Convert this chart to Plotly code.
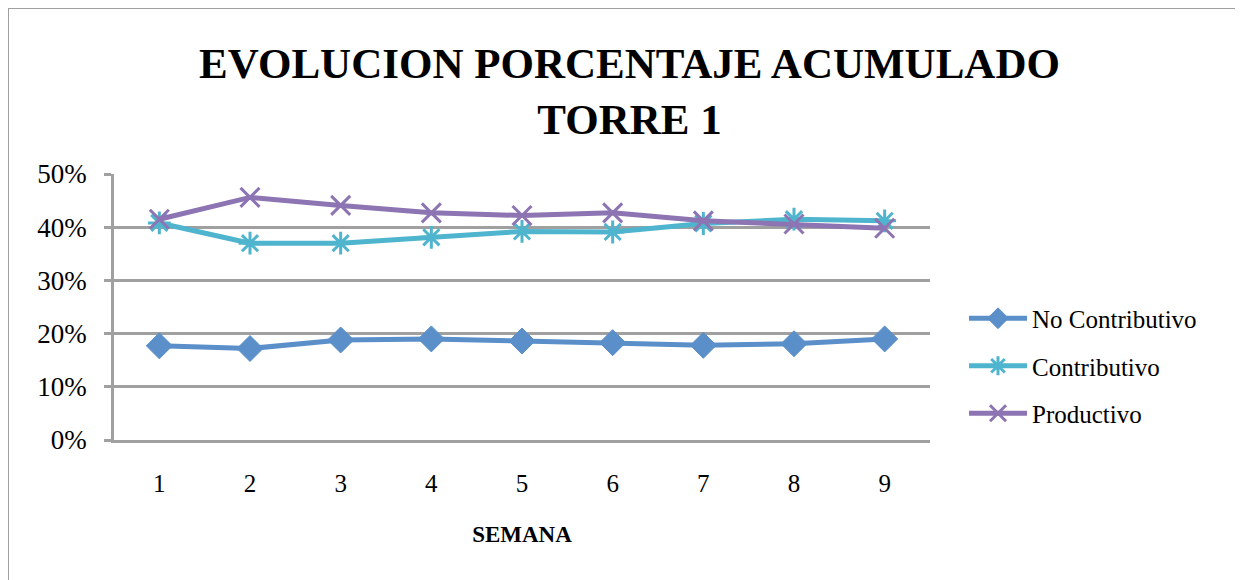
import plotly.graph_objects as go

# ______________ Data ______________
semanas = [1, 2, 3, 4, 5, 6, 7, 8, 9]
no_contributivo = [0.177, 0.172, 0.188, 0.190, 0.186, 0.183, 0.178, 0.181, 0.190]
contributivo = [0.408, 0.370, 0.370, 0.381, 0.392, 0.391, 0.407, 0.415, 0.412]
productivo = [0.415, 0.456, 0.441, 0.427, 0.422, 0.427, 0.412, 0.406, 0.398]
y_ticks = [0, 0.1, 0.2, 0.3, 0.4, 0.5]
y_labels = ["0%", "10%", "20%", "30%", "40%", "50%"]

FONT = "Liberation Serif, DejaVu Serif, serif"
GRAY = "#a0a0a0"

# page body adds ~8px offset, so everything is placed 8px up/left
OFF = 8
W, H = 1243, 580
L, R, T, B = 114 - OFF, 313 + OFF, 174 - OFF, 140 + OFF
pw, ph = W - L - R, H - T - B


def px_x(p):
    return (p - OFF - L) / pw


def px_y(p):
    return (H - B - (p - OFF)) / ph


series = [
    ("No Contributivo", no_contributivo, "#5b8fc9", "diamond", 20, 1),
    ("Contributivo", contributivo, "#4fb4cd", "asterisk-open", 19, 3),
    ("Productivo", productivo, "#8d74b2", "x-thin-open", 19, 3),
]

fig = go.Figure()
for name, vals, color, symbol, size, lw in series:
    fig.add_trace(go.Scatter(
        x=semanas, y=vals, name=name, mode="lines+markers",
        legendgroup=name,
        line=dict(color=color, width=5),
        marker=dict(symbol=symbol, size=size, color=color,
                    line=dict(color=color, width=lw)),
    ))

fig.update_layout(
    width=W, height=H,
    margin=dict(l=L, r=R, t=T, b=B),
    paper_bgcolor="white", plot_bgcolor="white",
    font=dict(family=FONT, size=26, color="black"),
    title=dict(
        text="<b>EVOLUCION PORCENTAJE ACUMULADO<br>TORRE 1</b>",
        x=0.5, xanchor="center", y=(H - 70) / H, yanchor="middle",
        font=dict(family=FONT, size=43, color="black"),
    ),
    showlegend=True,
    legend=dict(
        x=px_x(964), xanchor="left", y=px_y(366), yanchor="middle",
        font=dict(family=FONT, size=25), tracegroupgap=12,
        itemwidth=58, bgcolor="rgba(0,0,0,0)",
    ),
    shapes=[dict(
        type="rect", xref="paper", yref="paper",
        x0=px_x(8), x1=px_x(1237), y0=px_y(600), y1=px_y(8),
        line=dict(color=GRAY, width=2), layer="below",
    )],
)

fig.update_xaxes(
    range=[0.5, 9.5], tickvals=semanas, ticktext=[str(s) for s in semanas],
    showgrid=False, zeroline=False,
    showline=True, linecolor=GRAY, linewidth=2.5,
    ticks="", ticklabelstandoff=19,
    tickfont=dict(family=FONT, size=25),
    title=dict(text="<b>SEMANA</b>", font=dict(family=FONT, size=23), standoff=31),
)
fig.update_yaxes(
    range=[0, 0.5], tickvals=y_ticks, ticktext=y_labels,
    showgrid=True, gridcolor=GRAY, gridwidth=2.5, zeroline=False,
    showline=True, linecolor=GRAY, linewidth=2.5,
    ticks="outside", ticklen=7, tickcolor=GRAY, tickwidth=2.5,
    ticklabelstandoff=12,
    tickfont=dict(family=FONT, size=27),
)

fig.write_html("out.html")
